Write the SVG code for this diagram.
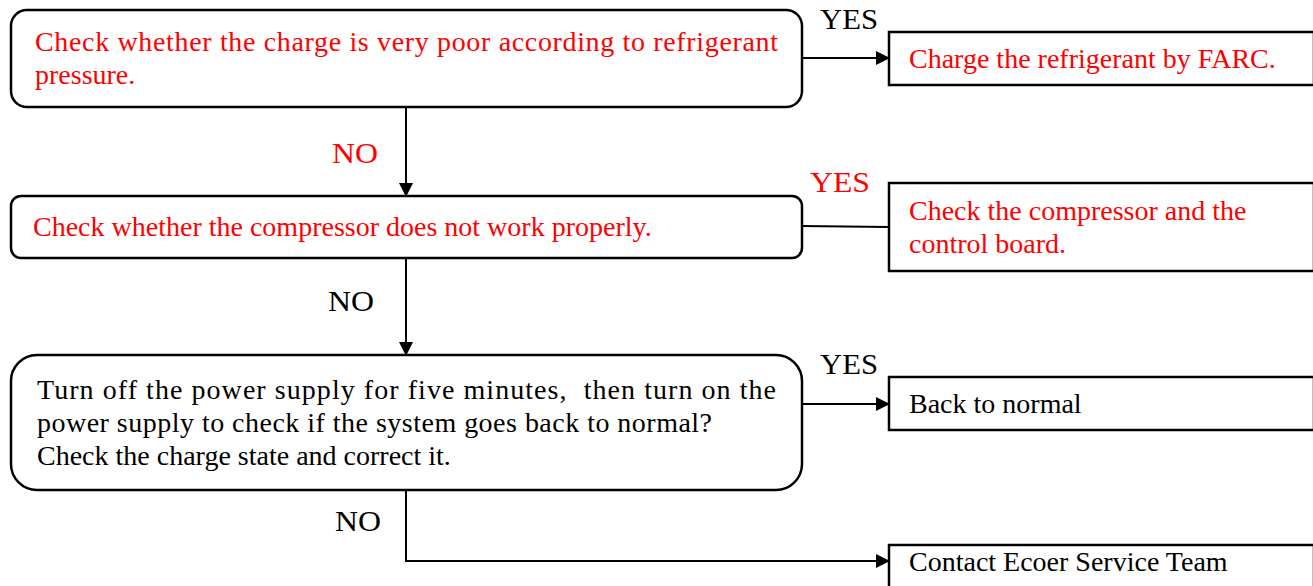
<svg xmlns="http://www.w3.org/2000/svg" width="1313" height="586" viewBox="0 0 1313 586">
<style>
.box{fill:#fff;stroke:#000;stroke-width:2.5}
.t{font-family:"Liberation Serif","Times New Roman",serif;font-size:28px}
.r{fill:#ff0000}
.k{fill:#000}
.lbl{font-family:"Liberation Serif","Times New Roman",serif;font-size:30px}
.c{fill:none;stroke:#000;stroke-width:2}
</style>
<defs>
<marker id="ah" markerWidth="14" markerHeight="14" refX="13" refY="7" orient="auto" markerUnits="userSpaceOnUse">
<path d="M0,0 L14,7 L0,14 Z" fill="#000"/>
</marker>
</defs>
<rect width="1313" height="586" fill="#fff"/>
<g id="connectors">
<line class="c" x1="802" y1="58" x2="889" y2="58" marker-end="url(#ah)"/>
<line class="c" x1="406" y1="107" x2="406" y2="196" marker-end="url(#ah)"/>
<line class="c" x1="802" y1="226" x2="889" y2="227"/>
<line class="c" x1="406" y1="258" x2="406" y2="355" marker-end="url(#ah)"/>
<line class="c" x1="802" y1="404" x2="889" y2="404" marker-end="url(#ah)"/>
<polyline class="c" points="406,490 406,561 889,561" marker-end="url(#ah)"/>
<text class="lbl k" x="820" y="29" textLength="58" lengthAdjust="spacingAndGlyphs">YES</text>
<text class="lbl r" x="332" y="163" textLength="46" lengthAdjust="spacingAndGlyphs">NO</text>
<text class="lbl r" x="810" y="192" textLength="60" lengthAdjust="spacingAndGlyphs">YES</text>
<text class="lbl k" x="328" y="311" textLength="46" lengthAdjust="spacingAndGlyphs">NO</text>
<text class="lbl k" x="820" y="374" textLength="58" lengthAdjust="spacingAndGlyphs">YES</text>
<text class="lbl k" x="335" y="531" textLength="46" lengthAdjust="spacingAndGlyphs">NO</text>
</g>
<g id="n1">
<rect class="box" x="11" y="10" width="791" height="97" rx="16"/>
<text class="t r" x="35" y="51" textLength="743">Check whether the charge is very poor according to refrigerant</text>
<text class="t r" x="35" y="84">pressure.</text>
</g>
<g id="n2">
<rect class="box" x="889" y="32" width="425" height="53"/>
<text class="t r" x="909" y="68">Charge the refrigerant by FARC.</text>
</g>
<g id="n3">
<rect class="box" x="11" y="196" width="791" height="62" rx="10"/>
<text class="t r" x="33" y="236">Check whether the compressor does not work properly.</text>
</g>
<g id="n4">
<rect class="box" x="889" y="183" width="425" height="88"/>
<text class="t r" x="909" y="220">Check the compressor and the</text>
<text class="t r" x="909" y="253">control board.</text>
</g>
<g id="n5">
<rect class="box" x="11" y="355" width="791" height="135" rx="26"/>
<text class="t k" x="37" y="399" xml:space="preserve" textLength="739">Turn off the power supply for five minutes,  then turn on the</text>
<text class="t k" x="37" y="432" textLength="675">power supply to check if the system goes back to normal?</text>
<text class="t k" x="37" y="465">Check the charge state and correct it.</text>
</g>
<g id="n6">
<rect class="box" x="889" y="377" width="425" height="53"/>
<text class="t k" x="909" y="413">Back to normal</text>
</g>
<g id="n7">
<rect class="box" x="889" y="545" width="425" height="60"/>
<text class="t k" x="909" y="571">Contact Ecoer Service Team</text>
</g>
</svg>
